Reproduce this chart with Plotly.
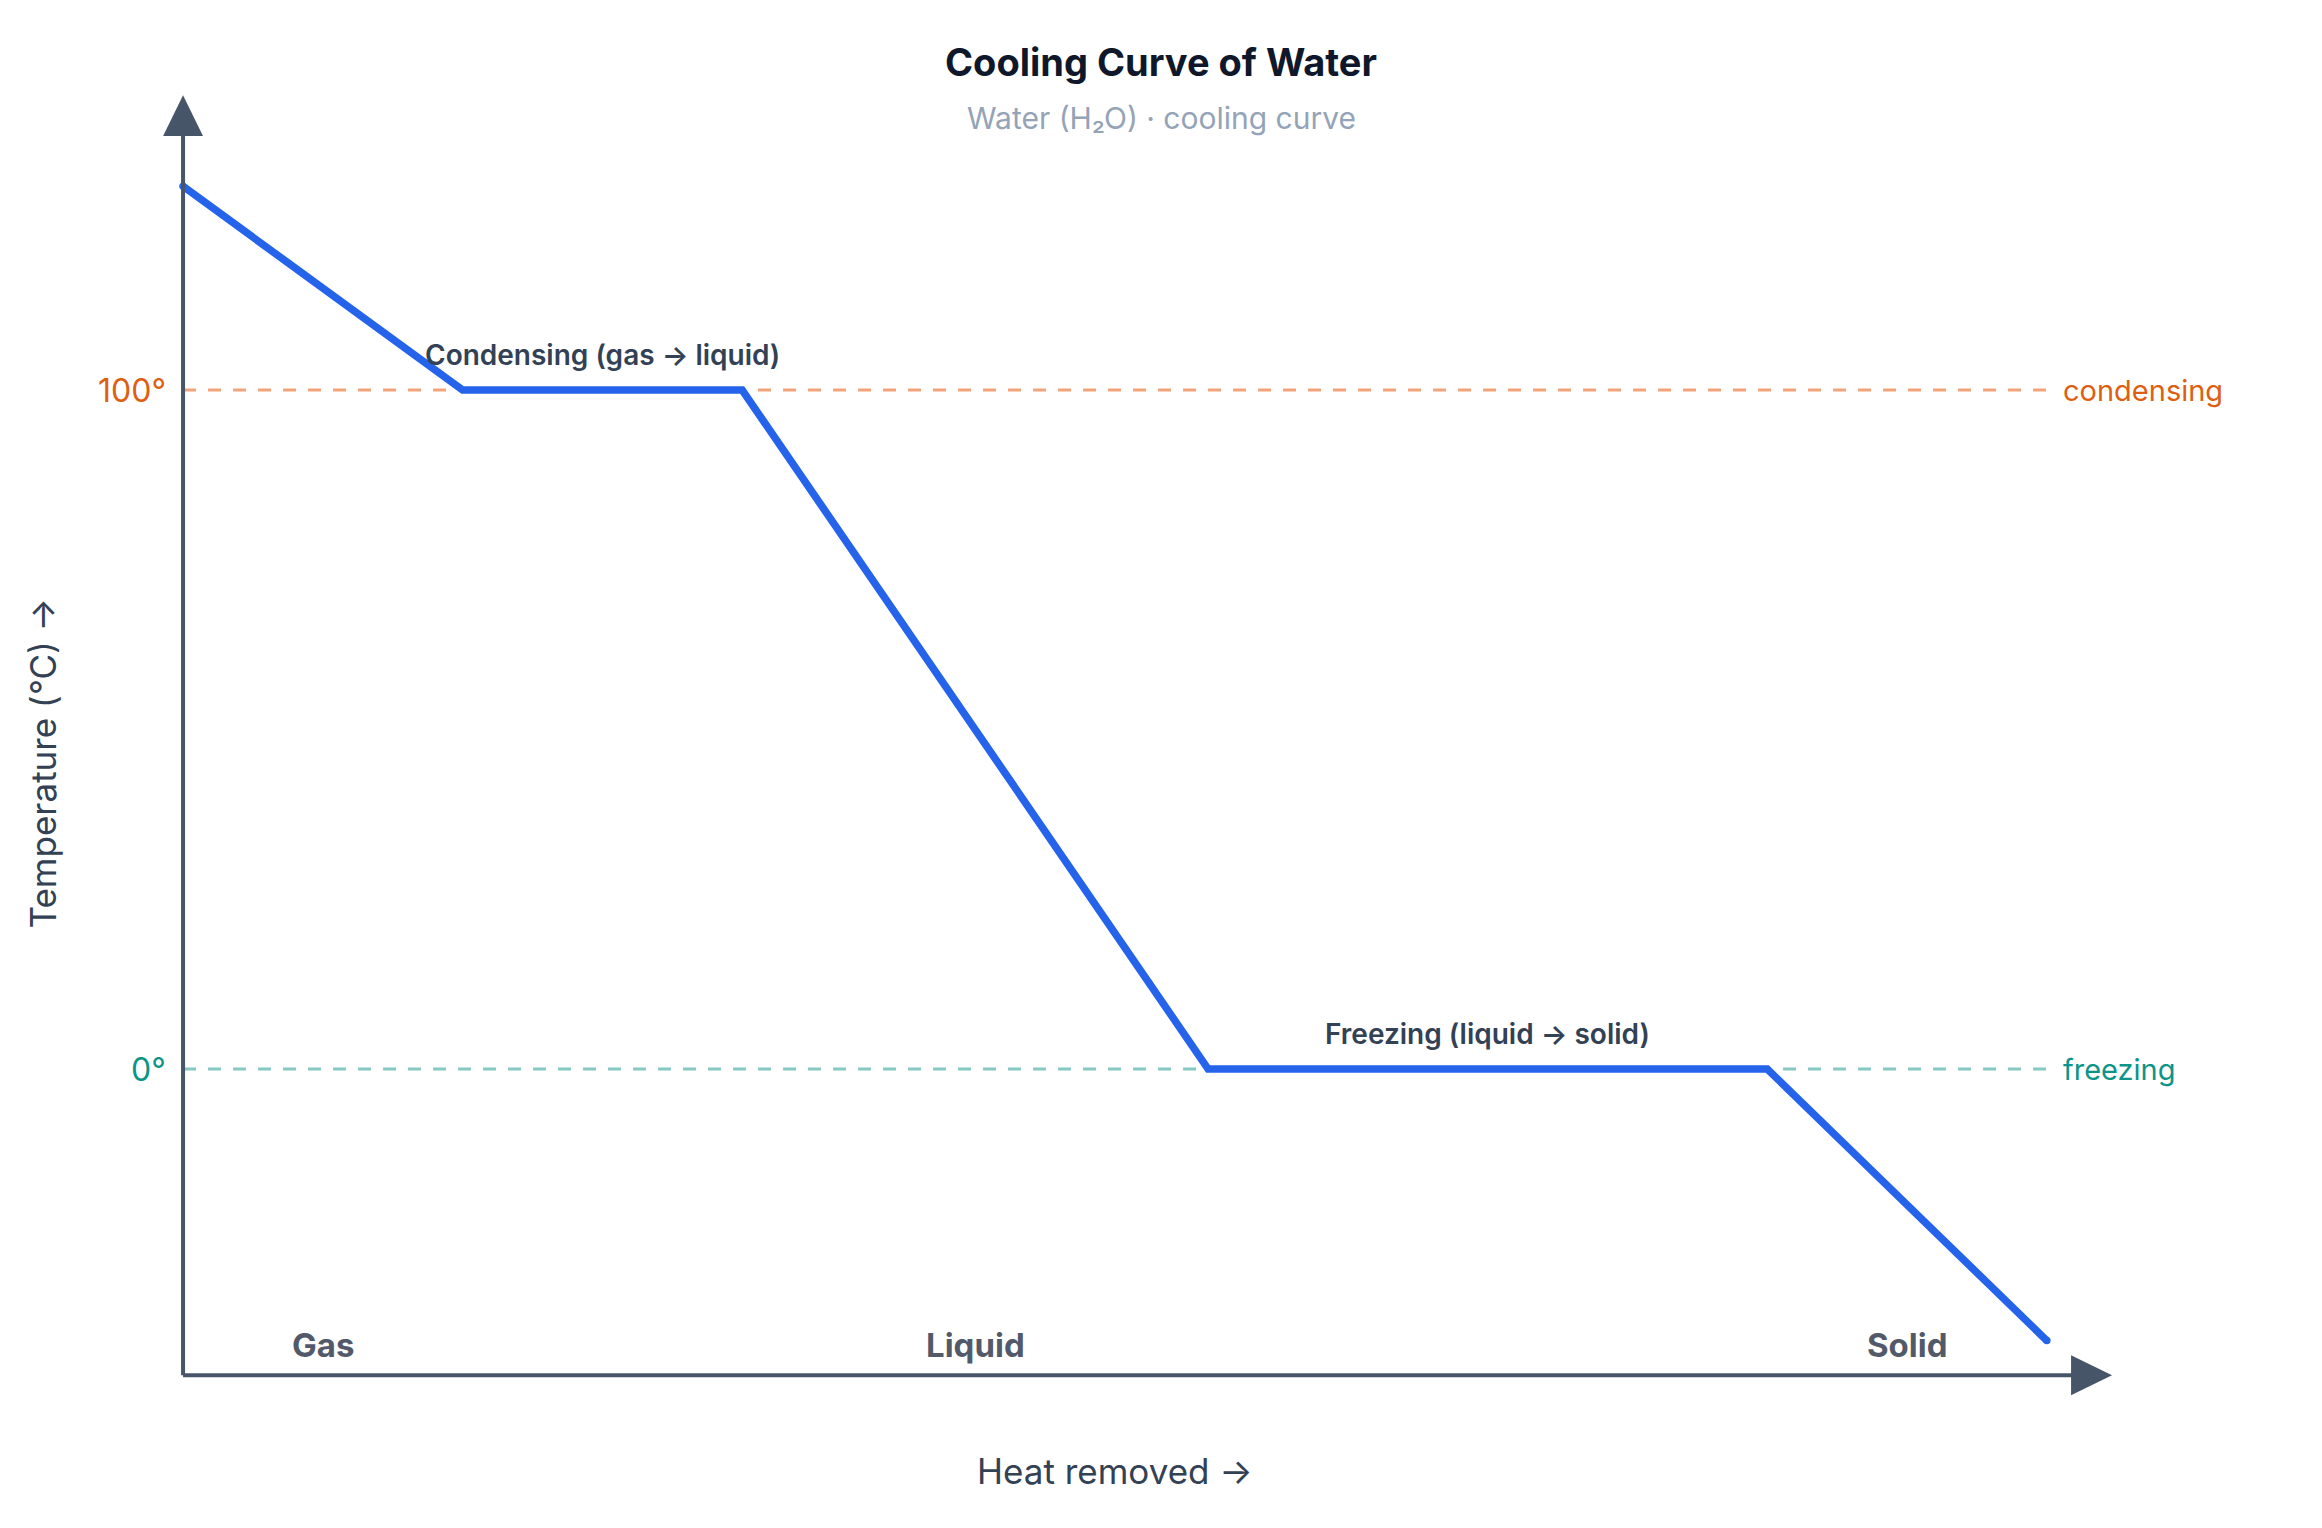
import plotly.graph_objects as go

# ---- data ----
heat_removed = [0, 15, 30, 55, 85, 100]
temperature = [130, 100, 100, 0, 0, -40]
phase_names = ["Gas", "Liquid", "Solid"]
transition_names = ["Condensing (gas → liquid)", "Freezing (liquid → solid)"]
ref_temps = [100, 0]
ref_tick_text = ["100°", "0°"]
ref_labels = ["condensing", "freezing"]
ref_colors = ["#dd5f12", "#0d9488"]
ref_line_colors = ["rgba(234,88,12,0.55)", "rgba(13,148,136,0.5)"]

FONT = "Inter, 'Noto Sans', sans-serif"
AXIS_COLOR = "#475569"
LINE_COLOR = "#2563eb"

x_min, x_max = heat_removed[0], heat_removed[-1]
y_min, y_max = min(temperature), max(temperature)

fig = go.Figure()

fig.add_trace(go.Scatter(
    x=heat_removed, y=temperature, mode="lines",
    line=dict(color=LINE_COLOR, width=7.5), hoverinfo="skip", showlegend=False,
))
# rounded end caps
fig.add_trace(go.Scatter(
    x=[heat_removed[0], heat_removed[-1]], y=[temperature[0], temperature[-1]],
    mode="markers", marker=dict(color=LINE_COLOR, size=7.5), hoverinfo="skip", showlegend=False,
))

shapes = []
annotations = []

# reference lines
for t, txt, lab, c, lc in zip(ref_temps, ref_tick_text, ref_labels, ref_colors, ref_line_colors):
    shapes.append(dict(type="line", xref="x", yref="y", x0=x_min, x1=x_max, y0=t, y1=t,
                       line=dict(color=lc, width=2.8, dash="13px,12px"), layer="below"))
    annotations.append(dict(x=x_min, y=t, xref="x", yref="y", text=txt, showarrow=False,
                            xanchor="right", yanchor="middle", xshift=-15,
                            font=dict(family=FONT, size=32, color=c)))
    annotations.append(dict(x=x_max, y=t, xref="x", yref="y", text=lab, showarrow=False,
                            xanchor="left", yanchor="middle", xshift=14,
                            font=dict(family=FONT, size=29, color=c)))

# axes lines + arrows
x_axis_y = -45.1
y_axis_top = 143.4
shapes.append(dict(type="line", xref="x", yref="y", x0=0, x1=101.5, y0=x_axis_y, y1=x_axis_y,
                   line=dict(color=AXIS_COLOR, width=4)))
shapes.append(dict(type="line", xref="x", yref="y", x0=0, x1=0, y0=x_axis_y, y1=137.5,
                   line=dict(color=AXIS_COLOR, width=4)))
shapes.append(dict(type="path", xref="x", yref="y",
                   path=f"M 101.3,{x_axis_y + 2.95} L 103.5,{x_axis_y} L 101.3,{x_axis_y - 2.95} Z",
                   fillcolor=AXIS_COLOR, line=dict(width=0)))
shapes.append(dict(type="path", xref="x", yref="y",
                   path=f"M -1.07,137.4 L 0,{y_axis_top} L 1.07,137.4 Z",
                   fillcolor=AXIS_COLOR, line=dict(width=0)))

# phase labels
for i, name in enumerate(phase_names):
    xm = (heat_removed[2 * i] + heat_removed[2 * i + 1]) / 2
    annotations.append(dict(x=xm, y=y_min, xref="x", yref="y", text=name, showarrow=False,
                            xanchor="center", yanchor="middle", yshift=-4,
                            font=dict(family=FONT, size=33, color="#525a6a", weight=700)))

# transition labels
for i, name in enumerate(transition_names):
    xm = (heat_removed[2 * i + 1] + heat_removed[2 * i + 2]) / 2
    annotations.append(dict(x=xm, y=temperature[2 * i + 1], xref="x", yref="y", text=name,
                            showarrow=False, xanchor="center", yanchor="middle", yshift=35,
                            font=dict(family=FONT, size=28, color="#334155", weight=600)))

# titles
annotations.append(dict(x=0.5105, y=(1400 - 62) / 1320, xref="paper", yref="paper",
                        text="Cooling Curve of Water", showarrow=False,
                        xanchor="center", yanchor="middle",
                        font=dict(family=FONT, size=38, color="#0f172a", weight=700)))
annotations.append(dict(x=0.5105, y=(1400 - 118) / 1320, xref="paper", yref="paper",
                        text="Water (H₂O) · cooling curve", showarrow=False,
                        xanchor="center", yanchor="middle",
                        font=dict(family=FONT, size=30, color="#94a3b8")))
annotations.append(dict(x=(x_min + x_max) / 2, y=(1400 - 1471) / 1320, xref="x", yref="paper",
                        text="Heat removed →", showarrow=False,
                        xanchor="center", yanchor="middle",
                        font=dict(family=FONT, size=35, color="#334155")))
annotations.append(dict(x=(43 - 140) / 2000, y=(y_min + y_max) / 2, xref="paper", yref="y",
                        text="Temperature (°C) →", showarrow=False, textangle=-90,
                        xanchor="center", yanchor="middle",
                        font=dict(family=FONT, size=35, color="#334155")))

fig.update_layout(
    width=2322, height=1528,
    margin=dict(l=140, r=182, t=80, b=128),
    paper_bgcolor="white", plot_bgcolor="white",
    xaxis=dict(range=[-2.31, 105.0], visible=False, fixedrange=True),
    yaxis=dict(range=[-48.75, 145.66], visible=False, fixedrange=True),
    shapes=shapes, annotations=annotations,
    showlegend=False,
)

fig.write_html("out.html", config={"displayModeBar": False})
